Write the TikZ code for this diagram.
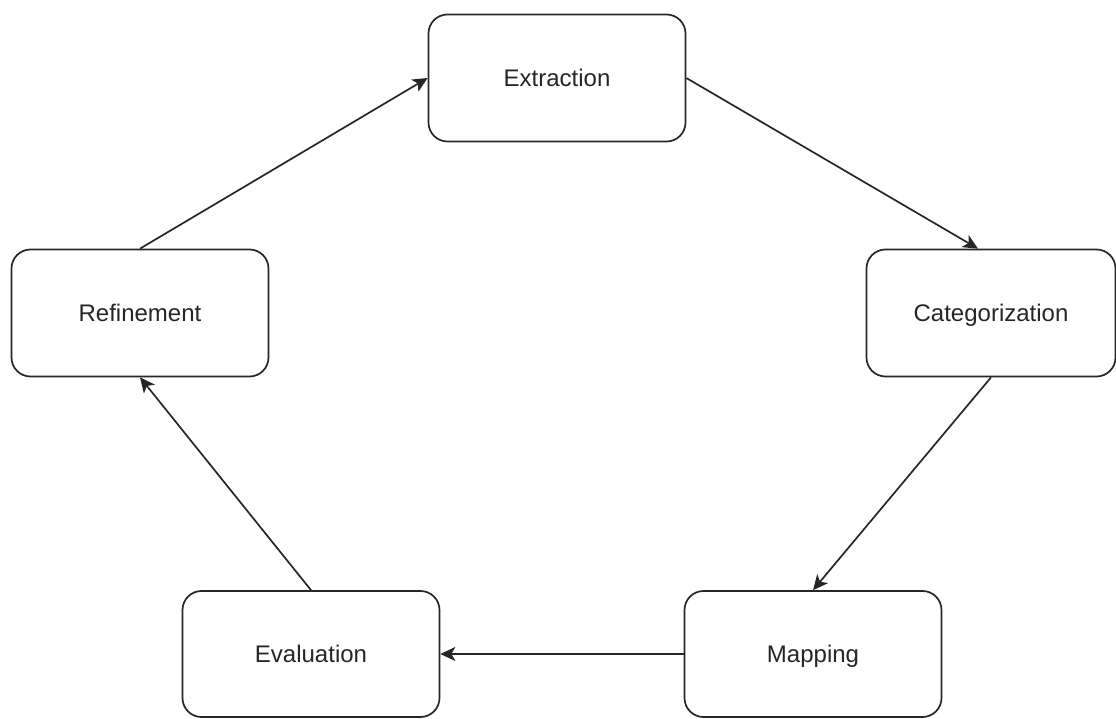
\documentclass[tikz,border=0pt]{standalone}
\usepackage{fontspec}
\setmainfont{Liberation Sans}
\usetikzlibrary{arrows.meta,calc}
\begin{document}
\begin{tikzpicture}[x=1pt,y=1pt,
  box/.style={draw=black!85, line width=1.7pt, rounded corners=19pt, fill=white,
    minimum width=257pt, minimum height=127pt, inner sep=0pt, text height=22pt, text depth=5pt,
    font=\fontsize{24}{28}\selectfont, text=black!85},
  link/.style={draw=black!85, line width=1.7pt, -{Stealth[length=15pt,width=14pt,inset=4pt]}}]
\useasboundingbox (0,0) rectangle (1116,718);
\node[box] (ext) at (557,640) {Extraction};
\node[box, minimum width=249pt] (cat) at (991,405) {Categorization};
\node[box] (ref) at (140,405) {Refinement};
\node[box, minimum height=126pt] (map) at (813,64) {Mapping};
\node[box, minimum height=126pt] (eva) at (311,64) {Evaluation};
\draw[link] (ref.north) -- (ext.west);
\draw[link] (ext.east) -- ($(cat.north)+(-13,0)$);
\draw[link] (cat.south) -- (map.north);
\draw[link] (map.west) -- (eva.east);
\draw[link] (eva.north) -- (ref.south);
\end{tikzpicture}
\end{document}
